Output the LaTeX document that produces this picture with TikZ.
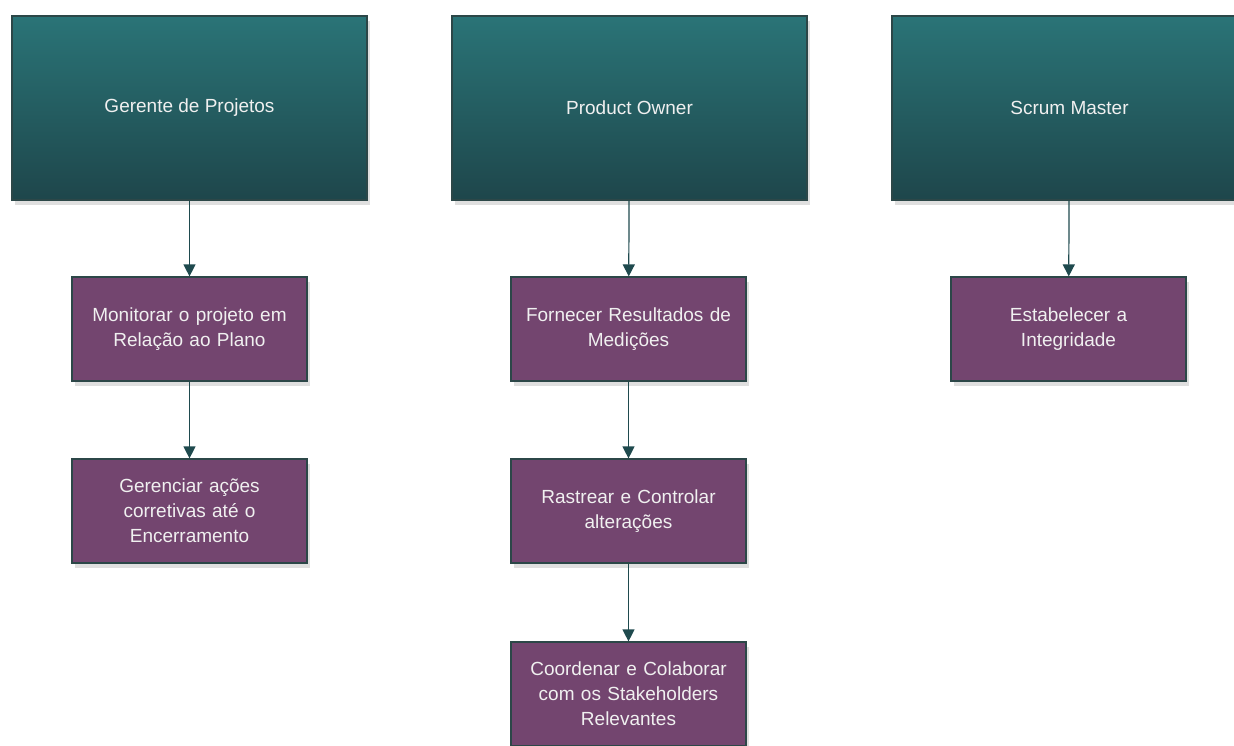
\documentclass[tikz,border=0pt]{standalone}
\usepackage{fontspec}
\setmainfont{Liberation Sans}
\usetikzlibrary{arrows.meta,shadows}

\definecolor{tealtop}{HTML}{2A7477}
\definecolor{tealbot}{HTML}{1E464B}
\definecolor{roxo}{HTML}{73456F}
\definecolor{borda}{HTML}{2C4748}
\definecolor{seta}{HTML}{1F4A4E}

\begin{document}
\begin{tikzpicture}
  [x=1pt,y=-1pt,
   every node/.style={draw=borda,line width=1.2pt,text=white!94!black,font=\fontsize{19}{25}\selectfont,align=center,
     drop shadow={shadow xshift=3pt,shadow yshift=-5pt,opacity=.25}},
   papel/.style={top color=tealtop,bottom color=tealbot,minimum width=355pt,minimum height=184pt},
   tarefa/.style={fill=roxo,minimum width=235pt,minimum height=104pt,text width=228pt},
   every edge/.style={draw=seta,line width=1.2pt,-{Triangle[length=12pt,width=12pt]}}]

  \clip (0,0) rectangle (1234,745);

  \node[papel] (gp) at (189.5,108) {Gerente de Projetos};
  \node[papel] (po) at (629.5,108) {Product Owner};
  \node[papel] (sm) at (1069.5,108) {Scrum Master};

  \node[tarefa] (mon) at (189.5,329) {Monitorar o projeto em\\Relação ao Plano};
  \node[tarefa] (ger) at (189.5,511) {Gerenciar ações\\corretivas até o\\Encerramento};
  \node[tarefa] (for) at (628.5,329) {Fornecer Resultados de\\Medições};
  \node[tarefa] (ras) at (628.5,511) {Rastrear e Controlar\\alterações};
  \node[tarefa] (coo) at (628.5,694) {Coordenar e Colaborar\\com os Stakeholders\\Relevantes};
  \node[tarefa] (est) at (1068.5,329) {Estabelecer a\\Integridade};

  \foreach \from/\to in {gp/mon,mon/ger,po/for,for/ras,ras/coo,sm/est}
    \path (\from) edge (\to);

\end{tikzpicture}
\end{document}
